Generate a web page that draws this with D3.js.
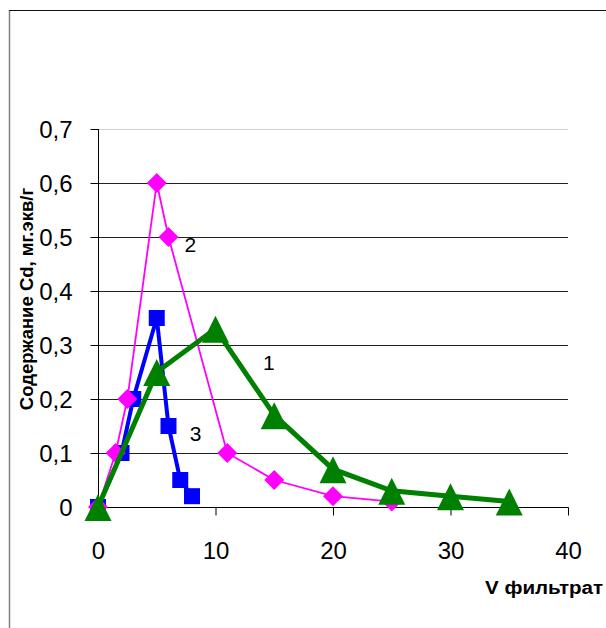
<!DOCTYPE html>
<html><head><meta charset="utf-8">
<script src="https://cdn.jsdelivr.net/npm/d3@7"></script>
<style>body{margin:0;background:#fff}svg{display:block}</style>
</head><body><svg id="c" width="606" height="628"></svg>
<script>
const s1x=[0,5,10,15,20,25,30,35];
const s1y=[0,0.25,0.33,0.17,0.07,0.03,0.02,0.01];
const s2x=[0,1.5,2.5,5,6,11,15,20,25];
const s2y=[0,0.1,0.2,0.6,0.5,0.1,0.05,0.02,0.01];
const s3x=[0,2,3,5,6,7,8];
const s3y=[0,0.1,0.2,0.35,0.15,0.05,0.02];
const xTicks=[0,10,20,30,40];
const yTicks=[0,0.1,0.2,0.3,0.4,0.5,0.6,0.7];
const yTitle="Содержание Cd,  мг.экв/г";
const xTitle="V фильтрат";
const seriesLabels=[{t:"1",x:14.55,y:0.267},{t:"2",x:7.85,y:0.486},{t:"3",x:8.3,y:0.135}];

const svg=d3.select("#c");
const x=d3.scaleLinear().domain([0,40]).range([98,568]);
const y=d3.scaleLinear().domain([0,0.7]).range([507,129]);
const font="'Liberation Sans', Arial, sans-serif";

// border
svg.append("line").attr("x1",9.5).attr("x2",9.5).attr("y1",10).attr("y2",628).attr("stroke","#808080").attr("stroke-width",1.5);
svg.append("line").attr("x1",9).attr("x2",606).attr("y1",10.5).attr("y2",10.5).attr("stroke","#111").attr("stroke-width",1.2);

// gridlines
svg.append("g").selectAll("line").data(yTicks.filter(d=>d>0)).join("line")
 .attr("x1",98).attr("x2",568).attr("y1",d=>Math.round(y(d))+0.5).attr("y2",d=>Math.round(y(d))+0.5)
 .attr("stroke",d=>d>=0.7?"#d0d0d0":"#222").attr("stroke-width",1);

const fmt=d=>d===0?"0":d3.format(".1f")(d).replace(".",",");
const ya=svg.append("g").attr("transform","translate(98.5,0)")
 .call(d3.axisLeft(y).tickValues(yTicks).tickFormat(fmt).tickSize(8).tickPadding(18));
ya.attr("font-size",null).attr("font-family",null);
ya.select(".domain").attr("d","M0,"+y(0.7)+"V"+(y(0)+0.5)).attr("stroke","#000");
ya.selectAll("text").style("font-family",font).style("font-size","24px").attr("fill","#000").attr("dy","0.35em");
ya.selectAll(".tick line").attr("stroke","#000");

const xa=svg.append("g").attr("transform","translate(0,"+(y(0)+0.5)+")")
 .call(d3.axisBottom(x).tickValues(xTicks).tickFormat(d3.format("d")).tickSize(8).tickPadding(26));
xa.attr("font-size",null).attr("font-family",null);
xa.select(".domain").attr("d","M"+x(0)+",0H"+(x(40)+0.5)).attr("stroke","#000");
xa.selectAll("text").style("font-family",font).style("font-size","24px").attr("fill","#000");
xa.selectAll(".tick line").attr("stroke","#000");

const line=d3.line().x(d=>x(d[0])).y(d=>y(d[1]));
const z=(xs,ys)=>xs.map((v,i)=>[v,ys[i]]);
const d1=z(s1x,s1y), d2=z(s2x,s2y), d3d=z(s3x,s3y);

// series 3 blue
svg.append("path").attr("d",line(d3d)).attr("fill","none").attr("stroke","#0000ff").attr("stroke-width",4);
svg.append("g").selectAll("rect").data(d3d).join("rect")
 .attr("x",d=>x(d[0])-8).attr("y",d=>y(d[1])-8).attr("width",16).attr("height",16).attr("fill","#0000ff");
// series 2 magenta
svg.append("path").attr("d",line(d2)).attr("fill","none").attr("stroke","#ff00ff").attr("stroke-width",1.8);
svg.append("g").selectAll("path").data(d2).join("path")
 .attr("d",d=>{const cx=x(d[0]),cy=y(d[1]),r=10;return `M${cx},${cy-r}L${cx+r},${cy}L${cx},${cy+r}L${cx-r},${cy}Z`;})
 .attr("fill","#ff00ff");
// series 1 green
svg.append("path").attr("d",line(d1)).attr("fill","none").attr("stroke","#008000").attr("stroke-width",5);
svg.append("g").selectAll("path").data(d1).join("path")
 .attr("d",d=>{const cx=x(d[0]),cy=y(d[1]);return `M${cx},${cy-13}L${cx+13.5},${cy+14}L${cx-13.5},${cy+14}Z`;})
 .attr("fill","#008000");

svg.append("g").selectAll("text").data(seriesLabels).join("text")
 .attr("x",d=>x(d.x)).attr("y",d=>y(d.y)).style("font-family",font).style("font-size","21px")
 .attr("text-anchor","middle").attr("dy","0.35em").text(d=>d.t);

svg.append("text").attr("transform","translate(33,299) rotate(-90)").attr("text-anchor","middle")
 .style("font-family",font).style("font-weight","bold").style("font-size","18.5px").text(yTitle);
svg.append("text").attr("x",485).attr("y",594).attr("textLength",118).attr("lengthAdjust","spacingAndGlyphs")
 .style("font-family",font).style("font-weight","bold").style("font-size","18px").text(xTitle);
</script></body></html>
